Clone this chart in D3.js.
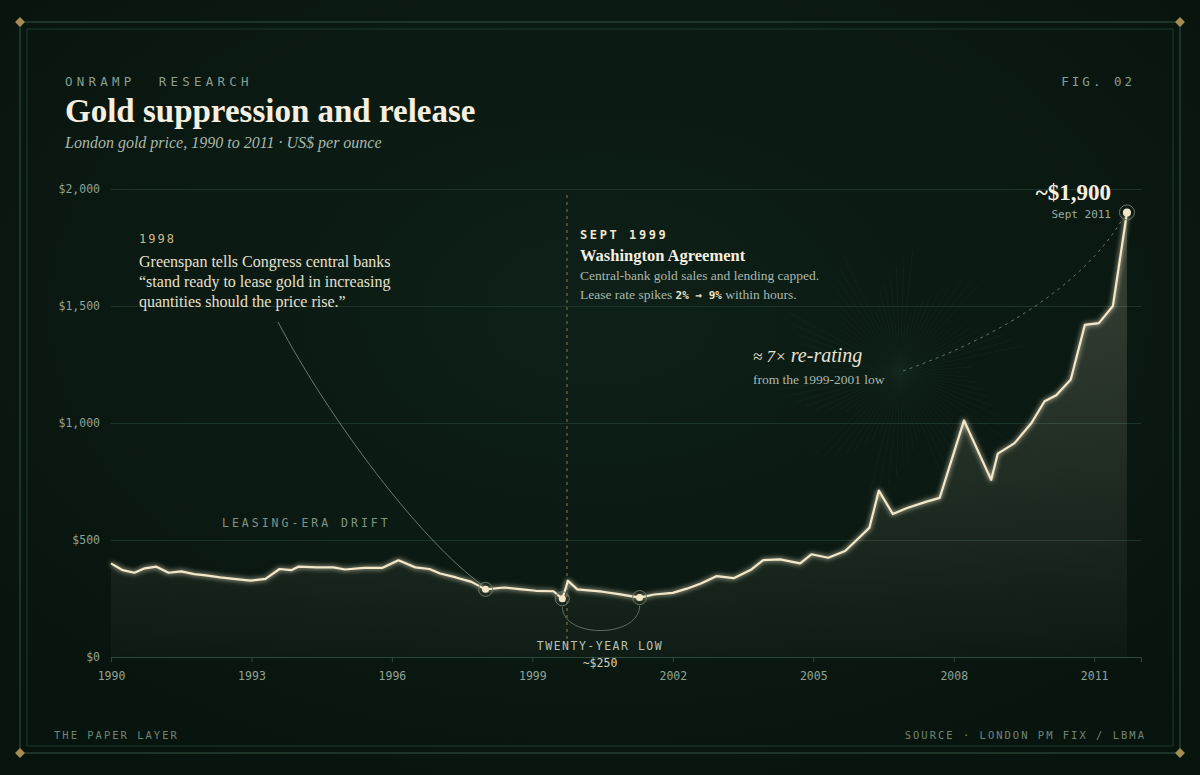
<!DOCTYPE html>
<html>
<head>
<meta charset="utf-8">
<script src="https://cdn.jsdelivr.net/npm/d3@7"></script>
<style>
  html, body { margin: 0; padding: 0; background: #0a1812; }
  svg { display: block; }
</style>
</head>
<body>
<script>
// gold price, fractional year -> US$/oz
var years = [1990.0,1990.25,1990.5,1990.72,1990.97,1991.23,1991.5,1991.78,1992.03,1992.33,1992.67,1992.98,
  1993.3,1993.6,1993.85,1994.0,1994.4,1994.75,1995.0,1995.4,1995.8,1996.14,1996.5,1996.8,1997.03,1997.37,
  1997.7,1998.0,1998.4,1998.73,1999.07,1999.45,1999.64,1999.76,1999.96,2000.5,2000.85,2001.29,2001.6,2002.0,
  2002.3,2002.6,2002.94,2003.3,2003.68,2003.93,2004.29,2004.72,2004.96,2005.32,2005.68,2006.0,2006.2,2006.4,
  2006.7,2006.99,2007.42,2007.7,2008.22,2008.8,2008.94,2009.3,2009.66,2009.94,2010.19,2010.5,2010.8,2011.1,
  2011.4,2011.7];
var prices = [400,371,360,379,386,360,366,354,349,340,333,326,
  334,376,371,386,383,383,374,381,381,413,383,376,357,340,
  321,289,297,290,283,281,249,326,289,279,269,254,267,274,
  292,314,346,337,374,414,417,400,439,424,453,514,553,711,
  611,636,664,680,1011,757,869,914,1000,1093,1119,1186,1419,1427,
  1500,1900];
var yTicks = [0, 500, 1000, 1500, 2000];
var xTicks = [1990, 1993, 1996, 1999, 2002, 2005, 2008, 2011];

var W = 1200, H = 775;
var serif = "'Liberation Serif', 'DejaVu Serif', serif";
var mono = "'DejaVu Sans Mono', monospace";
var cream = '#f4e8c8', muted = '#8a9e91', gold = '#cdb98a', grid = '#1d3428';

var data = years.map(function(y, i) { return {x: y, y: prices[i]}; });

var svg = d3.select('body').append('svg').attr('width', W).attr('height', H);
var defs = svg.append('defs');

var bg = defs.append('radialGradient').attr('id', 'bg').attr('cx', '50%').attr('cy', '40%').attr('r', '75%');
bg.append('stop').attr('offset', '0%').attr('stop-color', '#0e2018');
bg.append('stop').attr('offset', '100%').attr('stop-color', '#07130d');
svg.append('rect').attr('width', W).attr('height', H).attr('fill', 'url(#bg)');

var fillGrad = defs.append('linearGradient').attr('id', 'fillGrad').attr('x1', 0).attr('y1', 0).attr('x2', 0).attr('y2', 1);
fillGrad.append('stop').attr('offset', '0%').attr('stop-color', '#f4e8c8').attr('stop-opacity', 0.2);
fillGrad.append('stop').attr('offset', '100%').attr('stop-color', '#f4e8c8').attr('stop-opacity', 0.02);

var glow = defs.append('filter').attr('id', 'glow').attr('x', '-10%').attr('y', '-10%').attr('width', '120%').attr('height', '120%');
glow.append('feGaussianBlur').attr('stdDeviation', 2.5).attr('result', 'b');
var fm = glow.append('feMerge');
fm.append('feMergeNode').attr('in', 'b');
fm.append('feMergeNode').attr('in', 'SourceGraphic');

// frame
svg.append('rect').attr('x', 20).attr('y', 22).attr('width', 1160).attr('height', 731)
  .attr('fill', 'none').attr('stroke', '#2c4a39').attr('stroke-width', 1.2);
svg.append('rect').attr('x', 27).attr('y', 29).attr('width', 1146).attr('height', 717)
  .attr('fill', 'none').attr('stroke', '#1f3a2c').attr('stroke-width', 1);
[[20, 22], [1180, 22], [20, 753], [1180, 753]].forEach(function(p) {
  svg.append('rect').attr('x', p[0] - 3.5).attr('y', p[1] - 3.5).attr('width', 7).attr('height', 7)
    .attr('fill', '#a88d52').attr('transform', 'rotate(45,' + p[0] + ',' + p[1] + ')');
});

// header
svg.append('text').attr('x', 65).attr('y', 86).text('ONRAMP  RESEARCH')
  .attr('font-family', mono).attr('font-size', 12.5).attr('letter-spacing', 4.2).attr('fill', muted)
  .attr('xml:space', 'preserve');
svg.append('text').attr('x', 1135).attr('y', 86).attr('text-anchor', 'end').text('FIG. 02')
  .attr('font-family', mono).attr('font-size', 12.5).attr('letter-spacing', 3).attr('fill', muted);
svg.append('text').attr('x', 65).attr('y', 122).text('Gold suppression and release')
  .attr('font-family', serif).attr('font-size', 33).attr('font-weight', 'bold').attr('fill', '#f6efe0');
svg.append('text').attr('x', 65).attr('y', 148).text('London gold price, 1990 to 2011 · US$ per ounce')
  .attr('font-family', serif).attr('font-size', 16).attr('font-style', 'italic').attr('fill', '#a9b8ad');

// footer
svg.append('text').attr('x', 54).attr('y', 739).text('THE PAPER LAYER')
  .attr('font-family', mono).attr('font-size', 10.5).attr('letter-spacing', 2).attr('fill', '#6f8577');
svg.append('text').attr('x', 1146).attr('y', 739).attr('text-anchor', 'end').text('SOURCE · LONDON PM FIX / LBMA')
  .attr('font-family', mono).attr('font-size', 10.5).attr('letter-spacing', 2).attr('fill', '#6f8577');

var x = d3.scaleLinear().domain([1990, 2012]).range([111, 1141]);
var y = d3.scaleLinear().domain([0, 2000]).range([657, 189]);

// grid + y labels
var yAxis = svg.append('g').attr('transform', 'translate(111,0)')
  .call(d3.axisLeft(y).tickValues(yTicks).tickSize(-1030).tickFormat(function(d) { return '$' + d3.format(',')(d); }));
yAxis.select('.domain').remove();
yAxis.selectAll('.tick line').attr('stroke', grid).attr('stroke-width', 1);
yAxis.selectAll('.tick text').attr('x', -11).attr('fill', '#8fa396').attr('font-family', mono).attr('font-size', 11.5);

// x axis
var xAxis = svg.append('g').attr('transform', 'translate(0,657)')
  .call(d3.axisBottom(x).tickValues(xTicks).tickSize(5).tickFormat(d3.format('d')));
xAxis.select('.domain').attr('stroke', '#2d4b3b');
xAxis.selectAll('.tick line').attr('stroke', '#2d4b3b');
xAxis.selectAll('.tick text').attr('y', 15).attr('fill', '#8fa396').attr('font-family', mono).attr('font-size', 11.5);

// starburst behind 7x label
var burst = svg.append('g').attr('opacity', 0.35);
d3.range(0, 360, 4).forEach(function(a) {
  var r = a * Math.PI / 180, len = 60 + (a * 37 % 70);
  burst.append('line').attr('x1', 900).attr('y1', 372)
    .attr('x2', 900 + Math.cos(r) * len).attr('y2', 372 + Math.sin(r) * len)
    .attr('stroke', '#2a4334').attr('stroke-width', 0.5);
});

// area
var area = d3.area().x(function(d) { return x(d.x); }).y0(y(0)).y1(function(d) { return y(d.y); });
svg.append('path').attr('d', area(data)).attr('fill', 'url(#fillGrad)');

// Washington dashed line
var wa = 1999.74;
svg.append('line').attr('x1', x(wa)).attr('x2', x(wa)).attr('y1', 195).attr('y2', 650)
  .attr('stroke', '#8c7a4e').attr('stroke-width', 1).attr('stroke-dasharray', '3,4');

// line
var line = d3.line().x(function(d) { return x(d.x); }).y(function(d) { return y(d.y); });
svg.append('path').attr('d', line(data)).attr('fill', 'none').attr('stroke', cream)
  .attr('stroke-width', 2.2).attr('stroke-linejoin', 'round').attr('filter', 'url(#glow)');

// markers
function marker(d, r) {
  svg.append('circle').attr('cx', x(d.x)).attr('cy', y(d.y)).attr('r', r + 3.5)
    .attr('fill', 'none').attr('stroke', '#6e7a6a').attr('stroke-width', 1);
  svg.append('circle').attr('cx', x(d.x)).attr('cy', y(d.y)).attr('r', r).attr('fill', cream);
}
var p1998 = data[27], low1 = data[32], low2 = data[37], last = data[data.length - 1];
marker(p1998, 3.5); marker(low1, 3.5); marker(low2, 3.5); marker(last, 4);

// 1998 annotation
svg.append('path')
  .attr('d', 'M278,322 C330,420 420,540 ' + (x(p1998.x) - 3) + ',' + (y(p1998.y) - 4))
  .attr('fill', 'none').attr('stroke', '#6f8577').attr('stroke-width', 0.9);
svg.append('text').attr('x', 139).attr('y', 243).text('1998')
  .attr('font-family', mono).attr('font-size', 12).attr('letter-spacing', 2).attr('fill', gold);
['Greenspan tells Congress central banks', '\u201cstand ready to lease gold in increasing',
 'quantities should the price rise.\u201d'].forEach(function(t, i) {
  svg.append('text').attr('x', 139).attr('y', 267 + i * 20).text(t)
    .attr('font-family', serif).attr('font-size', 16).attr('fill', '#e6e0cf');
});

// Washington annotation
svg.append('text').attr('x', 580).attr('y', 239).text('SEPT 1999')
  .attr('font-family', mono).attr('font-size', 12).attr('font-weight', 'bold').attr('letter-spacing', 2.6).attr('fill', '#f0e6cc');
svg.append('text').attr('x', 580).attr('y', 261).text('Washington Agreement')
  .attr('font-family', serif).attr('font-size', 16.5).attr('font-weight', 'bold').attr('fill', '#f6efe0');
svg.append('text').attr('x', 580).attr('y', 280).text('Central-bank gold sales and lending capped.')
  .attr('font-family', serif).attr('font-size', 13.5).attr('fill', '#a9b8ad');
var lt = svg.append('text').attr('x', 580).attr('y', 299)
  .attr('font-family', serif).attr('font-size', 13.5).attr('fill', '#a9b8ad');
lt.append('tspan').text('Lease rate spikes ');
lt.append('tspan').text('2% \u2192 9%').attr('font-family', mono).attr('font-size', 11).attr('font-weight', 'bold').attr('fill', '#efe3c4');
lt.append('tspan').text(' within hours.');

// leasing-era drift
svg.append('text').attr('x', 222).attr('y', 527).text('LEASING-ERA DRIFT')
  .attr('font-family', mono).attr('font-size', 11.5).attr('letter-spacing', 3).attr('fill', '#7f9486');

// twenty-year low bracket
var bx1 = x(low1.x), bx2 = x(low2.x), by = y(low1.y) + 8;
svg.append('path').attr('d', 'M' + bx1 + ',' + by + ' C' + bx1 + ',' + (by + 32) + ' ' + bx2 + ',' + (by + 32) + ' ' + bx2 + ',' + (y(low2.y) + 8))
  .attr('fill', 'none').attr('stroke', '#5a6e60').attr('stroke-width', 1);
svg.append('text').attr('x', 600).attr('y', 650).attr('text-anchor', 'middle').text('TWENTY-YEAR LOW')
  .attr('font-family', mono).attr('font-size', 11.5).attr('letter-spacing', 1.5).attr('fill', '#b8c2b5');
svg.append('text').attr('x', 600).attr('y', 667).attr('text-anchor', 'middle').text('~$250')
  .attr('font-family', mono).attr('font-size', 11.5).attr('fill', '#d6cfb8');

// re-rating
svg.append('path').attr('d', 'M903,371 C990,340 1080,290 ' + (x(last.x) - 4) + ',' + (y(last.y) + 6))
  .attr('fill', 'none').attr('stroke', '#5f7767').attr('stroke-width', 1).attr('stroke-dasharray', '3,4');
var rr = svg.append('text').attr('x', 753).attr('y', 362)
  .attr('font-family', serif).attr('font-size', 20).attr('font-style', 'italic').attr('fill', '#e8e2d2');
rr.append('tspan').text('\u2248 7\u00d7 ').attr('font-size', 17);
rr.append('tspan').text('re-rating');
svg.append('text').attr('x', 753).attr('y', 384).text('from the 1999-2001 low')
  .attr('font-family', serif).attr('font-size', 13.5).attr('fill', '#a9b8ad');

// peak label
svg.append('text').attr('x', 1111).attr('y', 200).attr('text-anchor', 'end').text('~$1,900')
  .attr('font-family', serif).attr('font-size', 23).attr('font-weight', 'bold').attr('fill', '#f6efe0');
svg.append('text').attr('x', 1111).attr('y', 218).attr('text-anchor', 'end').text('Sept 2011')
  .attr('font-family', mono).attr('font-size', 11).attr('fill', '#9aab9e');
</script>
</body>
</html>
